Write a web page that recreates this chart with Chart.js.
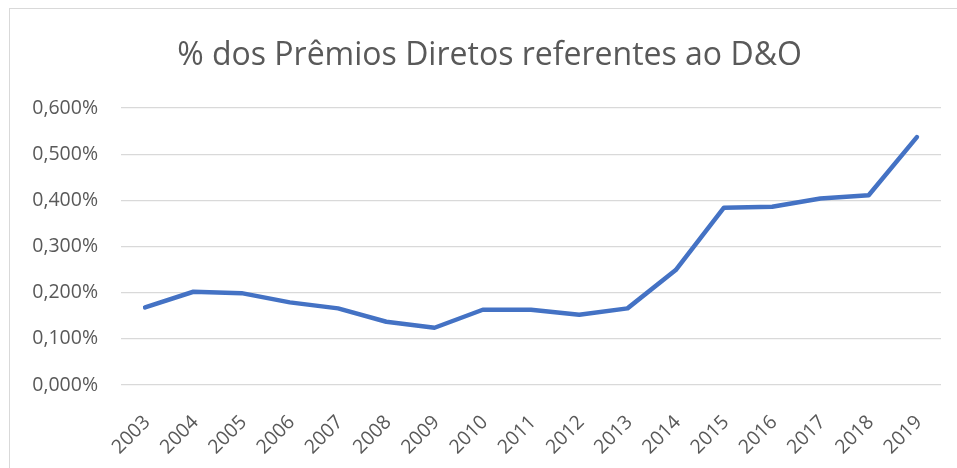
<!DOCTYPE html>
<html>
<head>
<meta charset="utf-8">
<script src="https://cdn.jsdelivr.net/npm/chart.js@4"></script>
<style>
  html, body { margin: 0; padding: 0; background: #fff; }
  #wrap { position: relative; width: 957px; height: 468px; overflow: hidden; }
  #frame { position: absolute; left: 9px; top: 8px; width: 980px; height: 500px; border: 1.5px solid #d9d9d9; box-sizing: border-box; }
  #chart { position: absolute; left: 0; top: 0; }
  #title {
    position: absolute; left: 0; width: 979px; top: 33px; text-align: center;
    font: 32px/40px 'Open Sans', 'Noto Sans', sans-serif; color: #595959; white-space: nowrap;
  }
</style>
</head>
<body>
<div id="wrap">
  <div id="frame"></div>
  <canvas id="chart" width="957" height="468"></canvas>
  <div id="title">% dos Prêmios Diretos referentes ao D&amp;O</div>
</div>
<script>
const years = ["2003", "2004", "2005", "2006", "2007", "2008", "2009", "2010", "2011",
  "2012", "2013", "2014", "2015", "2016", "2017", "2018", "2019"]
// % of direct premiums from D&O
const shares = [0.168, 0.202, 0.199, 0.179, 0.166, 0.137, 0.124, 0.163, 0.163,
  0.152, 0.166, 0.249, 0.384, 0.386, 0.404, 0.411, 0.537]
const yTicks = [0, 0.1, 0.2, 0.3, 0.4, 0.5, 0.6]

const font = "'Open Sans', 'Noto Sans', sans-serif"
Chart.defaults.font.family = font
Chart.defaults.color = "#595959"

const canvas = document.getElementById("chart")
new Chart(canvas, {
  type: "line",
  data: {
    labels: years,
    datasets: [{
      data: shares,
      borderColor: "#4472C4",
      borderWidth: 4.5,
      borderCapStyle: "round",
      borderJoinStyle: "round",
      pointRadius: 0,
      tension: 0,
    }],
  },
  options: {
    responsive: false,
    animation: false,
    layout: { padding: { left: 0, right: 16, top: 108, bottom: 0 } },
    scales: {
      x: {
        offset: true,
        grid: { display: false },
        border: { display: false },
        ticks: { minRotation: 45, maxRotation: 45, labelOffset: 2, padding: 18, font: { size: 19.5 }, color: "#595959" },
        afterFit: axis => { axis.height = 83 },
      },
      y: {
        min: 0,
        max: 0.6,
        afterBuildTicks: axis => { axis.ticks = yTicks.map(v => ({ value: v })) },
        grid: { color: "#d9d9d9", lineWidth: 1.3, drawTicks: false },
        border: { display: false },
        ticks: {
          padding: 23,
          font: { size: 19.5 },
          color: "#595959",
          callback: v => v.toFixed(3).replace(".", ",") + "%",
        },
        afterFit: axis => { axis.width = 121 },
      },
    },
    plugins: {
      legend: { display: false },
      tooltip: { enabled: false },
      title: { display: false },
    },
  },
})
</script>
</body>
</html>
